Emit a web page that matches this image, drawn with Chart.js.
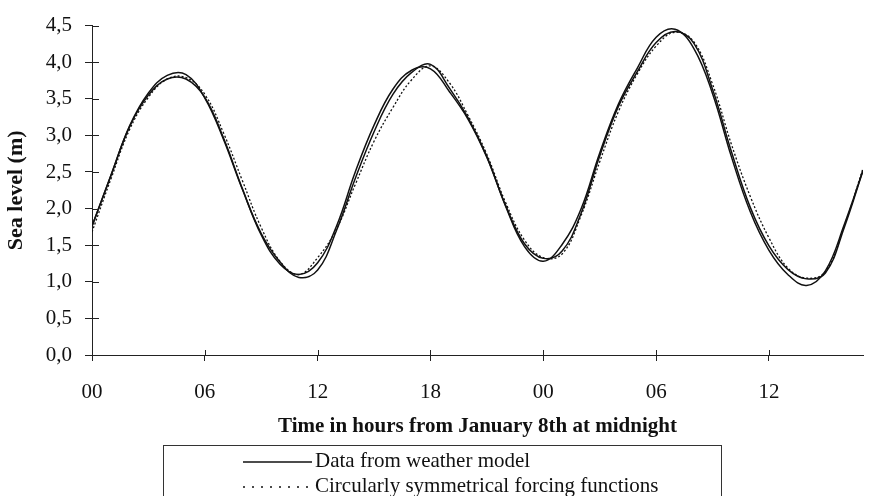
<!DOCTYPE html>
<html>
<head>
<meta charset="utf-8">
<title>Sea level</title>
<script src="https://cdn.jsdelivr.net/npm/chart.js@4.4.1/dist/chart.umd.min.js"></script>
<style>
  html, body { margin: 0; padding: 0; background: #fff; }
  body { width: 870px; height: 496px; overflow: hidden; position: relative; font-family: 'Liberation Serif', 'Times New Roman', serif; }
  #wrap { position: absolute; left: 0; top: 0; width: 870px; height: 496px; }
  #legend { position: absolute; left: 163px; top: 445px; width: 559px; height: 70px; border: 1px solid #333; box-sizing: border-box; font-size: 21px; color: #111; }
  .item { position: absolute; left: 0; height: 24px; line-height: 24px; display: flex; align-items: center; white-space: nowrap; }
  .item svg { margin-left: 79px; margin-right: 3px; }
  .item span { position: relative; top: -2px; }
</style>
</head>
<body>
<div id="wrap"><canvas id="chart"></canvas></div>
<div id="legend"></div>
<script>
/* ================================
   Data
================================ */
const hours = [0, 1, 2, 3, 4, 5, 6, 7, 8, 9, 10, 11, 12, 13, 14, 15, 16, 17, 18, 19, 20,
  21, 22, 23, 24, 25, 26, 27, 28, 29, 30, 31, 32, 33, 34, 35, 36, 37, 38, 39, 40, 41];

const weatherModel = [1.76, 2.45, 3.13, 3.58, 3.82, 3.83, 3.51, 2.94, 2.26, 1.66, 1.27,
  1.06, 1.16, 1.70, 2.41, 3.05, 3.56, 3.86, 3.97, 3.65, 3.24, 2.71, 2.03, 1.48, 1.28,
  1.51, 1.99, 2.76, 3.43, 3.92, 4.34, 4.45, 4.19, 3.57, 2.71, 1.96, 1.43, 1.10, 0.95,
  1.15, 1.78, 2.52];

const secondRun = [1.76, 2.45, 3.12, 3.55, 3.77, 3.77, 3.52, 2.96, 2.27, 1.64, 1.24,
  1.10, 1.26, 1.76, 2.50, 3.14, 3.63, 3.89, 3.91, 3.60, 3.22, 2.70, 2.04, 1.52, 1.32,
  1.42, 1.93, 2.72, 3.40, 3.87, 4.27, 4.42, 4.26, 3.63, 2.78, 2.02, 1.49, 1.17, 1.04,
  1.12, 1.74, 2.52];

const symmetricForcing = [1.68, 2.40, 3.08, 3.52, 3.77, 3.79, 3.56, 3.03, 2.38, 1.74, 1.28,
  1.10, 1.33, 1.72, 2.33, 2.92, 3.38, 3.76, 3.95, 3.72, 3.27, 2.74, 2.08, 1.57, 1.33,
  1.38, 1.90, 2.64, 3.33, 3.84, 4.22, 4.41, 4.28, 3.70, 2.88, 2.17, 1.60, 1.19, 1.05,
  1.14, 1.76, 2.55];

const xTickLabels = ['00', '06', '12', '18', '00', '06', '12'];
const yTickLabels = ['0,0', '0,5', '1,0', '1,5', '2,0', '2,5', '3,0', '3,5', '4,0', '4,5'];

/* ================================
   Helpers
================================ */
const serif = "'Liberation Serif', 'Times New Roman', serif";
const ink = '#111';
const toPoints = values => hours.map((h, i) => ({ x: h, y: values[i] }));

// tick marks that cross the axis line (inner half)
const crossTicks = {
  id: 'crossTicks',
  afterDraw(chart) {
    const { ctx, scales: { x, y }, chartArea } = chart;
    ctx.save();
    ctx.strokeStyle = '#222';
    ctx.lineWidth = 1;
    ctx.beginPath();
    y.ticks.forEach(t => {
      const py = Math.round(y.getPixelForValue(t.value)) + 0.5;
      ctx.moveTo(chartArea.left, py);
      ctx.lineTo(chartArea.left + 7, py);
    });
    x.ticks.forEach(t => {
      if (t.value === 0) return;
      const px = Math.round(x.getPixelForValue(t.value)) + 0.5;
      ctx.moveTo(px, chartArea.bottom);
      ctx.lineTo(px, chartArea.bottom - 5);
    });
    ctx.stroke();
    ctx.restore();
  }
};

/* ================================
   Chart
================================ */
const chart = new Chart(document.getElementById('chart'), {
  type: 'line',
  data: {
    datasets: [
      {
        label: 'Data from weather model',
        data: toPoints(weatherModel),
        borderColor: ink,
        borderWidth: 1.5,
        pointRadius: 0,
        tension: 0.4,
        fill: false
      },
      {
        label: '',
        data: toPoints(secondRun),
        borderColor: ink,
        borderWidth: 1.5,
        pointRadius: 0,
        tension: 0.4,
        fill: false
      },
      {
        label: 'Circularly symmetrical forcing functions',
        data: toPoints(symmetricForcing),
        borderColor: ink,
        borderWidth: 1.3,
        borderDash: [2, 2],
        pointRadius: 0,
        tension: 0.4,
        fill: false
      }
    ]
  },
  options: {
    responsive: true,
    maintainAspectRatio: false,
    animation: false,
    layout: { padding: { top: 15, right: 7, bottom: 56, left: 0 } },
    plugins: {
      legend: { display: false },
      tooltip: { enabled: false }
    },
    scales: {
      x: {
        type: 'linear',
        min: 0,
        max: 41,
        afterBuildTicks: s => { s.ticks = s.ticks.filter(t => t.value % 6 === 0); },
        afterFit: s => { s.height = 85; },
        ticks: {
          stepSize: 6,
          autoSkip: false,
          maxRotation: 0,
          padding: 19,
          color: ink,
          font: { family: serif, size: 21 },
          callback: v => xTickLabels[v / 6]
        },
        grid: { drawOnChartArea: false, tickLength: 6, color: '#222' },
        border: { color: '#222', width: 1 },
        title: {
          display: true,
          text: 'Time in hours from January 8th at midnight',
          color: ink,
          font: { family: serif, size: 21, weight: 'bold' },
          padding: { top: 0, bottom: 1 }
        }
      },
      y: {
        min: 0,
        max: 4.5,
        afterFit: s => { s.width = 92; },
        ticks: {
          stepSize: 0.5,
          padding: 13,
          color: ink,
          font: { family: serif, size: 21 },
          callback: (v, i) => yTickLabels[i]
        },
        grid: { drawOnChartArea: false, tickLength: 7, color: '#222' },
        border: { color: '#222', width: 1 },
        title: {
          display: true,
          text: 'Sea level (m)',
          color: ink,
          font: { family: serif, size: 22, weight: 'bold' },
          padding: { top: 3, bottom: 0 }
        }
      }
    }
  },
  plugins: [crossTicks]
});

/* ================================
   Legend box (built from datasets)
================================ */
const legend = document.getElementById('legend');
chart.data.datasets.filter(ds => ds.label).forEach((ds, i) => {
  const item = document.createElement('div');
  item.className = 'item';
  item.style.top = (4 + i * 25) + 'px';
  const dash = ds.borderDash ? 'stroke-dasharray="2 7"' : '';
  item.innerHTML =
    '<svg width="69" height="4"><line x1="0" y1="2" x2="69" y2="2" stroke="' + ds.borderColor +
    '" stroke-width="1.3" ' + dash + '/></svg><span>' + ds.label + '</span>';
  legend.appendChild(item);
});
</script>
</body>
</html>
